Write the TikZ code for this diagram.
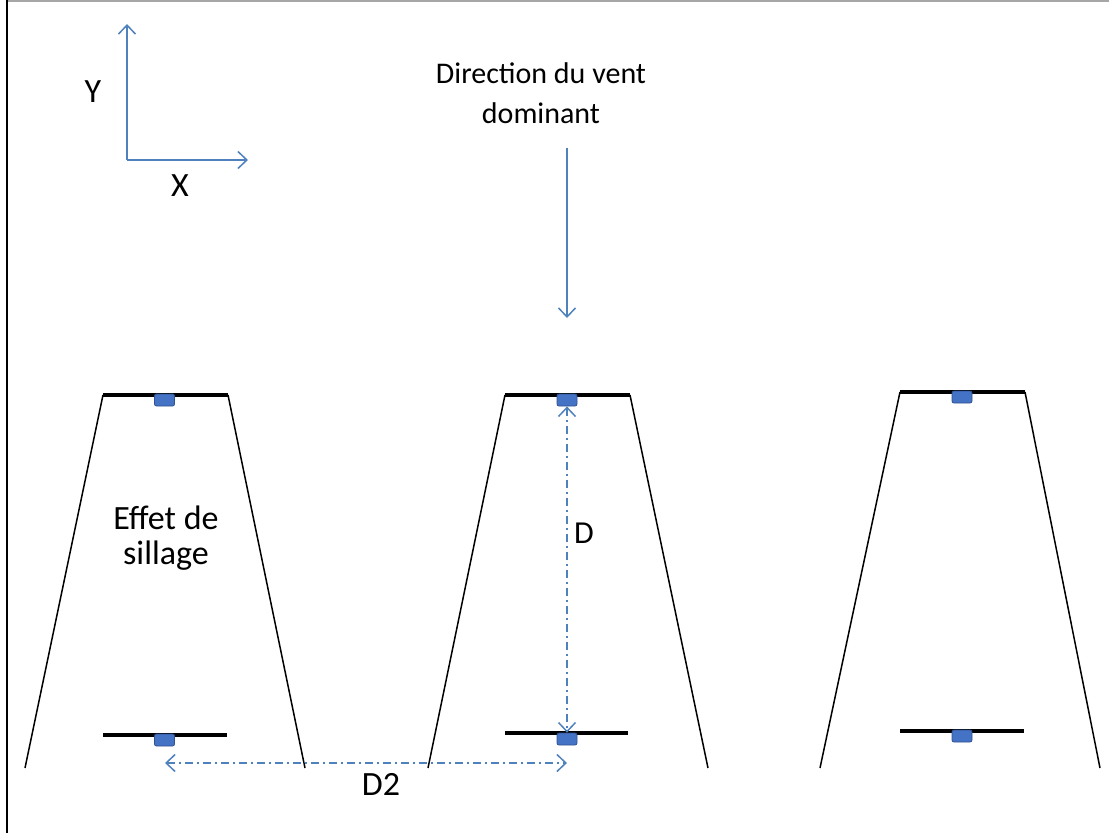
\documentclass[tikz,border=0pt]{standalone}
\usepackage{fontspec}
\setmainfont{Carlito}
\usetikzlibrary{arrows.meta}
\definecolor{lblue}{RGB}{79,129,189}
\definecolor{bfill}{RGB}{68,114,196}
\definecolor{bedge}{RGB}{47,82,143}
\tikzset{
  txt/.style={font=\fontsize{32}{35}\selectfont, inner sep=0pt, align=center},
  midtxt/.style={font=\fontsize{34}{35}\selectfont, inner sep=0pt, align=center},
  bigtxt/.style={font=\fontsize{34}{40}\selectfont, inner sep=0pt, align=center},
  cone/.style={line width=1.5pt, black},
  bar/.style={line width=4.5pt, black},
  gen/.style={draw=bedge, fill=bfill, rounded corners=2pt, minimum width=20pt, minimum height=12pt, inner sep=0pt, line width=0.8pt},
  barb/.style={-{Straight Barb[length=9pt,width=17pt,line width=1.5pt]}},
  barbs/.style={{Straight Barb[length=9pt,width=17pt,line width=1.5pt]}-{Straight Barb[length=9pt,width=17pt,line width=1.5pt]}},
  bluearrow/.style={lblue, line width=1.5pt, barb},
  dimline/.style={lblue, line width=1.5pt, barbs, dash pattern=on 8pt off 4pt on 2pt off 4pt},
}
\begin{document}
\begin{tikzpicture}[x=1pt,y=-1pt]
\useasboundingbox (0,0) rectangle (1109,833);
% frame
\draw[gray!70, line width=2pt] (7,1) -- (1109,1);
\draw[black, line width=2pt] (7,0) -- (7,833);

% axes
\coordinate (o) at (127,160);
\coordinate (ya) at (127,24);
\coordinate (xa) at (248,160);
\draw[bluearrow] (o) -- (ya);
\draw[bluearrow] (o) -- (xa);
\node[bigtxt] (ylab) at (93,92) {Y};
\node[bigtxt] (xlab) at (180,186) {X};

% wind
\node[font=\fontsize{30}{40}\selectfont, inner sep=0pt, align=center] (wind) at (541,93) {Direction du vent\\dominant};
\coordinate (w1) at (567,148);
\coordinate (w2) at (567,318);
\draw[bluearrow] (w1) -- (w2);

% turbine 1
\draw[cone] (103,395) -- (25,768);
\draw[cone] (228,395) -- (305,768);
\draw[bar] (103,395) -- (228,395);
\draw[bar] (103,735) -- (227,735);
\node[gen] (g1t) at (164.5,400) {};
\node[gen] (g1b) at (164.5,740) {};

% turbine 2
\draw[cone] (505,395) -- (428,768);
\draw[cone] (630,395) -- (708,768);
\draw[bar] (505,395) -- (630,395);
\draw[bar] (505,733) -- (628,733);
\node[gen] (g2t) at (567,400) {};
\node[gen] (g2b) at (567,739) {};

% turbine 3
\draw[cone] (900,392) -- (820,768);
\draw[cone] (1025,392) -- (1100,768);
\draw[bar] (900,392) -- (1025,392);
\draw[bar] (900,731) -- (1024,731);
\node[gen] (g3t) at (962,397) {};
\node[gen] (g3b) at (962,736) {};

\node[midtxt] (sill) at (166,538) {Effet de\\sillage};

% D
\draw[dimline] (g2t.south) -- (g2b.north);
\node[txt] (dlab) at (584,533) {D};

% D2
\coordinate (d2a) at (165,763);
\coordinate (d2b) at (567,763);
\draw[dimline] (d2a) -- (d2b);
\node[bigtxt] (d2lab) at (381,784) {D2};
\end{tikzpicture}
\end{document}
